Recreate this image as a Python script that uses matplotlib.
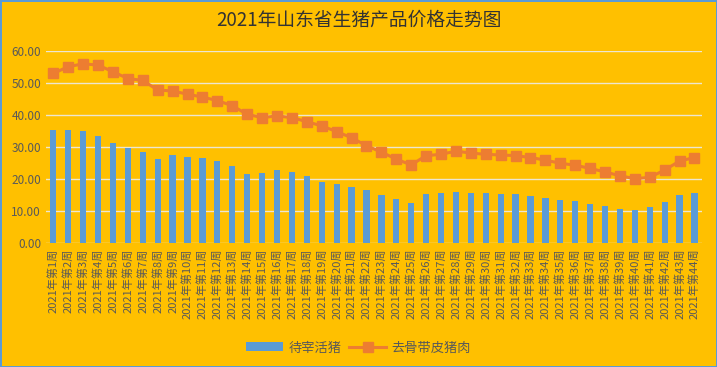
import matplotlib.pyplot as plt
import numpy as np

plt.rcParams['font.family'] = ['Noto Sans CJK SC', 'DejaVu Sans']

weeks = [f'2021年第{i}周' for i in range(1, 45)]

live_pig = [35.4, 35.4, 35.0, 33.4, 31.2, 29.8, 28.4, 26.2, 27.5, 26.9,
            26.6, 25.6, 24.1, 21.6, 21.9, 22.8, 22.2, 20.9, 19.0, 18.4,
            17.5, 16.6, 15.0, 13.8, 12.5, 15.3, 15.6, 15.9, 15.6, 15.6,
            15.3, 15.3, 14.7, 14.1, 13.4, 13.1, 12.2, 11.6, 10.6, 10.3,
            11.2, 12.8, 15.0, 15.6]

pork = [53.0, 55.1, 56.0, 55.6, 53.5, 51.4, 50.8, 47.8, 47.5, 46.5,
        45.6, 44.5, 42.9, 40.2, 39.2, 39.7, 39.2, 37.9, 36.6, 34.8,
        32.9, 30.4, 28.4, 26.2, 24.4, 27.3, 27.7, 28.7, 28.1, 27.7,
        27.5, 27.3, 26.7, 25.9, 24.9, 24.3, 23.3, 22.2, 21.0, 20.1,
        20.5, 22.8, 25.6, 26.7]

bg = '#FFC000'
x = np.arange(len(weeks))

fig = plt.figure(figsize=(7.17, 3.67), dpi=100, facecolor=bg)
fig.patch.set_edgecolor('#5B9BD5')
fig.patch.set_linewidth(2)
ax = fig.add_axes([0.064, 0.338, 0.915, 0.523])
ax.set_facecolor(bg)

bars = ax.bar(x, live_pig, width=0.42, color='#5B9BD5', label='待宰活猪', zorder=2)
line, = ax.plot(x, pork, color='#ED7D31', linewidth=2.2, marker='s', markersize=7,
                label='去骨带皮猪肉', zorder=3, clip_on=False)

ax.set_xlim(-0.5, len(weeks) - 0.5)
ax.set_ylim(0, 60)
ax.set_yticks(np.arange(0, 61, 10))
ax.set_yticklabels([f'{v:.2f}' for v in np.arange(0, 61, 10)])
ax.set_xticks(x)
ax.set_xticklabels(weeks, rotation=90)
ax.tick_params(axis='both', length=0, labelsize=8.5, colors='#595959')
ax.tick_params(axis='x', labelsize=8, pad=4)
ax.grid(axis='y', color='#EDE6D0', linewidth=1, zorder=1)
for s in ax.spines.values():
    s.set_visible(False)

fig.text(0.5, 0.945, '2021年山东省生猪产品价格走势图', ha='center', va='center',
         fontsize=13.5, color='#333333')

fig.legend([bars, line], ['待宰活猪', '去骨带皮猪肉'], loc='center',
           bbox_to_anchor=(0.5, 0.052), ncol=2, frameon=False,
           fontsize=9.5, labelcolor='#595959', handlelength=2.8,
           handletextpad=0.4, columnspacing=0.6)

fig.savefig('out.png', dpi=100, facecolor=bg, edgecolor='#5B9BD5')
